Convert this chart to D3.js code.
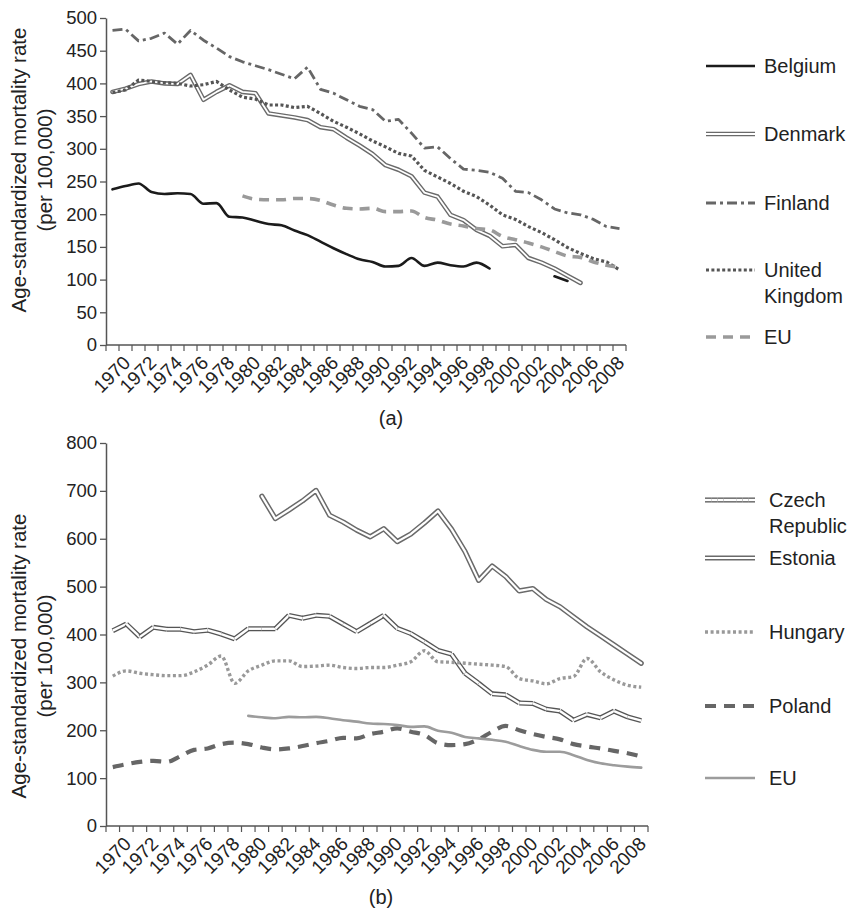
<!DOCTYPE html>
<html><head><meta charset="utf-8">
<script src="https://cdn.jsdelivr.net/npm/d3@7"></script>
<style>
html,body{margin:0;padding:0;background:#fff;}
svg text{font-family:"Liberation Sans",Arial,Helvetica,sans-serif;fill:#222;}
</style></head>
<body>
<svg id="chart" width="851" height="910"></svg>
<script>
// ---------- DATA ----------
const years = [1969,1970,1971,1972,1973,1974,1975,1976,1977,1978,1979,1980,1981,1982,1983,1984,1985,1986,1987,1988,
               1989,1990,1991,1992,1993,1994,1995,1996,1997,1998,1999,2000,2001,2002,2003,2004,2005,2006,2007,2008];
const yearLabels = ["1970","1972","1974","1976","1978","1980","1982","1984","1986","1988","1990","1992","1994","1996","1998","2000","2002","2004","2006","2008"];
const yTicksA = [0,50,100,150,200,250,300,350,400,450,500];
const yTicksB = [0,100,200,300,400,500,600,700,800];

// Panel (a)
const belgium = [238,243,247,234,231,232,231,216,217,196, 195,190,185,183,175,168,158,148,139,131,
                 127,120,121,133,121,126,122,120,126,117, null,null,null,null,105,98,null,null,null,null];
const denmark = [387,392,399,403,400,399,413,375,387,397, 387,385,354,351,348,344,333,330,317,305,
                 292,275,268,258,233,227,199,191,176,167, 151,153,133,126,117,106,95,null,null,null];
const finland = [481,483,465,469,477,460,481,466,454,441, 433,427,421,414,407,425,391,385,375,365,
                 360,342,345,324,301,303,285,269,267,264, 255,235,233,222,208,202,199,192,181,178];
const unitedKingdom = [386,390,405,403,401,400,396,398,403,390, 379,376,367,367,363,365,354,342,333,323,
                 312,303,293,289,267,257,247,235,227,214, 199,192,181,172,161,149,140,132,127,115];
const euA = [null,null,null,null,null,null,null,null,null,null, 228,223,222,222,224,224,221,214,209,208,
             209,204,204,205,195,191,185,182,178,176, 166,161,156,150,143,136,134,127,122,119];

// Panel (b)
const czech = [408,422,395,415,411,411,406,409,401,391, 412,412,412,440,434,440,438,422,406,423,
               440,413,402,385,367,359,319,298,276,274, 257,256,244,240,221,233,226,240,228,220];
const estonia = [null,null,null,null,null,null,null,null,null,null, null,689,642,660,679,701,649,635,618,604,
                 621,594,610,633,658,620,573,513,543,521, 491,496,473,458,437,416,397,378,359,340];
const hungary = [313,324,319,316,314,314,322,336,355,298, 324,336,345,345,333,334,336,331,329,331,
                 331,336,343,366,343,342,340,338,336,333, 308,303,297,308,312,350,322,305,294,290];
const poland = [123,129,134,136,134,146,159,162,171,174, 171,164,160,162,167,173,178,184,183,192,
                197,204,197,190,173,169,171,181,197,209, 200,192,186,181,171,166,162,157,152,145];
const euB = [null,null,null,null,null,null,null,null,null,null, 230,227,225,228,227,228,225,221,218,214,
             213,211,207,208,199,195,186,183,180,176, 167,159,155,155,148,138,131,127,124,122];

const seriesA = [
  {name:["Belgium"], values:belgium, style:"solidBlack"},
  {name:["Denmark"], values:denmark, style:"double"},
  {name:["Finland"], values:finland, style:"dashDot"},
  {name:["United","Kingdom"], values:unitedKingdom, style:"dotDark"},
  {name:["EU"], values:euA, style:"dashLight"}
];
const seriesB = [
  {name:["Czech","Republic"], values:czech, style:"segDouble"},
  {name:["Estonia"], values:estonia, style:"doubleB"},
  {name:["Hungary"], values:hungary, style:"dotLight"},
  {name:["Poland"], values:poland, style:"dashDark"},
  {name:["EU"], values:euB, style:"solidLight"}
];

// ---------- STYLES ----------
const STY = {
  solidBlack:{layers:[{stroke:"#1b1b1b",w:2.6}], curve:d3.curveMonotoneX},
  double:{layers:[{stroke:"#6a6a6a",w:4.6},{stroke:"#fff",w:1.8}], curve:d3.curveLinear},
  doubleB:{layers:[{stroke:"#6a6a6a",w:5.2},{stroke:"#fff",w:2.2}], curve:d3.curveLinear},
  dashDot:{layers:[{stroke:"#666",w:2.8,dash:"10,4,3,4"}], curve:d3.curveLinear},
  dotDark:{layers:[{stroke:"#555",w:3.2,dash:"3,2.4"}], curve:d3.curveLinear},
  dashLight:{layers:[{stroke:"#9a9a9a",w:3.6,dash:"10,7"}], curve:d3.curveMonotoneX},
  dotLight:{layers:[{stroke:"#999",w:3.4,dash:"3,2.6"}], curve:d3.curveMonotoneX},
  dashDark:{layers:[{stroke:"#666",w:4.2,dash:"11,8"}], curve:d3.curveMonotoneX},
  solidLight:{layers:[{stroke:"#9c9c9c",w:2.6}], curve:d3.curveMonotoneX},
  segDouble:{seg:true, layers:[{stroke:"#555",w:5},{stroke:"#fff",w:2.4}]}
};

const svg = d3.select("#chart");
const FONT = 18.5;

function panel(cfg){
  const g = svg.append("g");
  const x = d3.scaleBand().domain(years).range(cfg.xr).paddingInner(0).paddingOuter(0);
  const y = d3.scaleLinear().domain(cfg.yd).range(cfg.yr);
  const bw = x.bandwidth();
  const cx = yr => x(yr) + bw/2;

  // y axis
  const ya = g.append("g").attr("transform",`translate(${cfg.xr[0]},0)`)
    .call(d3.axisLeft(y).tickValues(cfg.yTicks).tickSize(6).tickSizeOuter(0).tickPadding(3));
  ya.select(".domain").attr("stroke","#555").attr("stroke-width",1.5);
  ya.selectAll(".tick line").attr("stroke","#555").attr("stroke-width",1.3);
  ya.selectAll(".tick text").attr("font-size",FONT).attr("fill","#222")
    .style("font-family","'Liberation Sans',Arial,sans-serif");

  // x axis (category boundaries)
  const y0 = y(cfg.yd[0]);
  const xa = g.append("g");
  xa.append("line").attr("x1",cfg.xr[0]).attr("x2",cfg.xr[1]).attr("y1",y0).attr("y2",y0)
    .attr("stroke","#555").attr("stroke-width",1.5);
  const bounds = years.map(d=>x(d)).concat([cfg.xr[1]]);
  xa.selectAll("line.tk").data(bounds).join("line").attr("class","tk")
    .attr("x1",d=>d).attr("x2",d=>d).attr("y1",y0).attr("y2",y0+6)
    .attr("stroke","#555").attr("stroke-width",1.2);
  xa.selectAll("text").data(yearLabels).join("text")
    .attr("transform",d=>`translate(${cx(+d)+6},${y0+19}) rotate(-45)`)
    .attr("text-anchor","end").attr("font-size",19).text(d=>d);

  // series
  cfg.series.forEach(s=>{
    const st = STY[s.style];
    const pts = years.map((yr,i)=>({yr, v:s.values[i]}));
    if(st.seg){
      const segs=[];
      for(let i=0;i<pts.length-1;i++){ if(pts[i].v!=null && pts[i+1].v!=null) segs.push([pts[i],pts[i+1]]); }
      const ln = d3.line().x(d=>cx(d.yr)).y(d=>y(d.v));
      segs.forEach(sg=>{
        st.layers.forEach(L=>{
          g.append("path").attr("d",ln(sg)).attr("fill","none").attr("stroke",L.stroke)
            .attr("stroke-width",L.w).attr("stroke-linecap","butt");
        });
      });
    } else {
      const ln = d3.line().defined(d=>d.v!=null).x(d=>cx(d.yr)).y(d=>y(d.v)).curve(st.curve);
      st.layers.forEach(L=>{
        g.append("path").attr("d",ln(pts)).attr("fill","none").attr("stroke",L.stroke)
          .attr("stroke-width",L.w).attr("stroke-dasharray",L.dash||null)
          .attr("stroke-linejoin","round").attr("stroke-linecap",L.dash?"butt":"round");
      });
    }
  });

  // legend
  cfg.series.forEach((s,i)=>{
    const st = STY[s.style];
    const ly = cfg.legY[i];
    const lg = g.append("g");
    if(st.seg){
      const n=8, w=(cfg.legX[1]-cfg.legX[0])/n;
      for(let k=0;k<n;k++){
        st.layers.forEach(L=>{
          lg.append("line").attr("x1",cfg.legX[0]+k*w).attr("x2",cfg.legX[0]+(k+1)*w)
            .attr("y1",ly).attr("y2",ly).attr("stroke",L.stroke).attr("stroke-width",L.w);
        });
      }
    } else {
      st.layers.forEach(L=>{
        lg.append("line").attr("x1",cfg.legX[0]).attr("x2",cfg.legX[1]).attr("y1",ly).attr("y2",ly)
          .attr("stroke",L.stroke).attr("stroke-width",L.w).attr("stroke-dasharray",L.dash||null);
      });
    }
    s.name.forEach((t,j)=>{
      lg.append("text").attr("x",cfg.legTextX).attr("y",ly+7+j*25.5).attr("font-size",20).text(t);
    });
  });

  // y title
  const tt = g.append("text").attr("transform",`translate(26,${cfg.titleY}) rotate(-90)`)
    .attr("text-anchor","middle").attr("font-size",20.5);
  tt.append("tspan").attr("x",0).attr("y",0).text("Age-standardized mortality rate");
  tt.append("tspan").attr("x",0).attr("y",25.5).text("(per 100,000)");

  // caption
  g.append("text").attr("x",cfg.capX).attr("y",cfg.capY).attr("text-anchor","middle")
    .attr("font-size",20).text(cfg.caption);
}

panel({xr:[106,626], yd:[0,500], yr:[345,18], yTicks:yTicksA, series:seriesA,
       legX:[706,755], legTextX:764, legY:[66,134,203,270,337], titleY:170,
       caption:"(a)", capX:391, capY:425});
panel({xr:[106,648], yd:[0,800], yr:[826,443], yTicks:yTicksB, series:seriesB,
       legX:[705,755], legTextX:769, legY:[500,558,632,706,778], titleY:656,
       caption:"(b)", capX:381, capY:904});
</script>
</body></html>
